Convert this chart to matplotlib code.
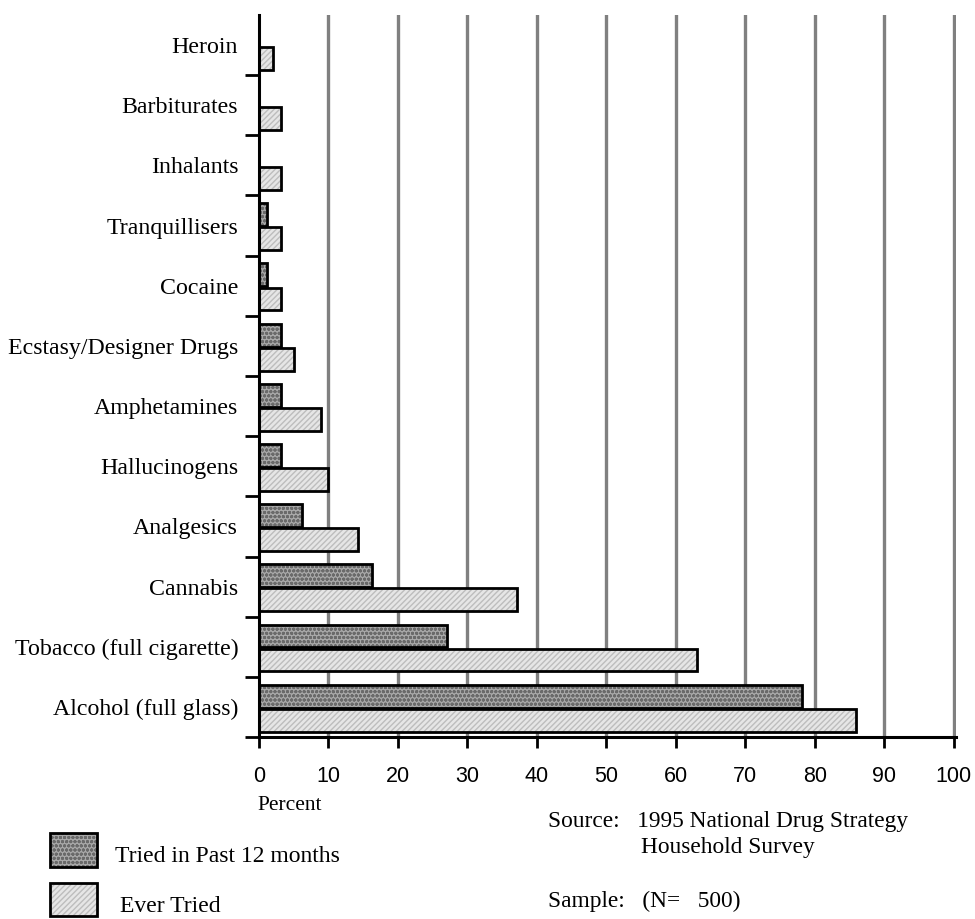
import numpy as np
import matplotlib
matplotlib.use("Agg")
import matplotlib.pyplot as plt
from matplotlib.patches import Rectangle

# Data (percent of respondents)
drugs = ["Heroin", "Barbiturates", "Inhalants", "Tranquillisers", "Cocaine",
         "Ecstasy/Designer Drugs", "Amphetamines", "Hallucinogens", "Analgesics",
         "Cannabis", "Tobacco (full cigarette)", "Alcohol (full glass)"]
past_12_months = [0, 0, 0, 1.2, 1.2, 3.1, 3.1, 3.1, 6.2, 16.2, 27.0, 78.2]
ever_tried = [2.0, 3.2, 3.2, 3.2, 3.2, 5.0, 8.9, 10.0, 14.3, 37.2, 63.0, 85.9]
xticks = list(range(0, 101, 10))

serif = ["Liberation Serif", "DejaVu Serif"]
sans = ["Liberation Sans", "DejaVu Sans"]

fig = plt.figure(figsize=(9.75, 9.19), dpi=100)
ax = fig.add_axes([0.2656, 0.198, 0.7149, 0.7857])

y = np.arange(len(drugs))
h = 0.38

# gridlines
for v in xticks[1:]:
    ax.axvline(v, color="#808080", lw=2.4, zorder=0)

# hatch layers then black outlines
ax.barh(y - 0.18, past_12_months, height=h, color="#a8a8a8", hatch="oooo",
        edgecolor="#6a6a6a", lw=0, zorder=2)
ax.barh(y + 0.22, ever_tried, height=h, color="#e6e6e6", hatch="//////",
        edgecolor="#bdbdbd", lw=0, zorder=2)
ax.barh(y - 0.18, past_12_months, height=h, fill=False, edgecolor="black",
        lw=2, zorder=3)
ax.barh(y + 0.22, ever_tried, height=h, fill=False, edgecolor="black",
        lw=2, zorder=3)

ax.set_xlim(0, 100.3)
ax.set_ylim(len(drugs) - 0.5, -0.5)

for s in ["top", "right"]:
    ax.spines[s].set_visible(False)
for s in ["left", "bottom"]:
    ax.spines[s].set_linewidth(2.2)
    ax.spines[s].set_zorder(4)

ax.set_xticks(xticks)
ax.set_xticklabels([str(v) for v in xticks], family=sans, fontsize=15.5)
ax.tick_params(axis="x", length=8, width=2, pad=13)

# category dividers as major ticks, labels as minor ticks
ax.set_yticks(np.arange(0.5, len(drugs), 1.0))
ax.set_yticklabels([])
ax.tick_params(axis="y", which="major", length=10, width=2)
ax.set_yticks(y, minor=True)
ax.set_yticklabels(drugs, minor=True, family=serif, fontsize=17.2)
ax.tick_params(axis="y", which="minor", length=0, pad=15)

fig.text(290 / 975, 1 - 806 / 919, "Percent", family=serif, fontsize=15.5,
         ha="center", va="center")

# legend
fig.patches.append(Rectangle((50 / 975, 1 - 867 / 919), 47 / 975, 34 / 919,
                             transform=fig.transFigure, facecolor="#a8a8a8",
                             hatch="oooo", edgecolor="#6a6a6a", lw=0))
fig.patches.append(Rectangle((50 / 975, 1 - 867 / 919), 47 / 975, 34 / 919,
                             transform=fig.transFigure, fill=False,
                             edgecolor="black", lw=2))
fig.patches.append(Rectangle((50 / 975, 1 - 916 / 919), 47 / 975, 33 / 919,
                             transform=fig.transFigure, facecolor="#e6e6e6",
                             hatch="//////", edgecolor="#bdbdbd", lw=0))
fig.patches.append(Rectangle((50 / 975, 1 - 916 / 919), 47 / 975, 33 / 919,
                             transform=fig.transFigure, fill=False,
                             edgecolor="black", lw=2))
fig.text(115 / 975, 1 - 857 / 919, "Tried in Past 12 months", family=serif,
         fontsize=17, va="center")
fig.text(120 / 975, 1 - 906 / 919, "Ever Tried", family=serif,
         fontsize=17, va="center")

fig.text(548 / 975, 1 - 821 / 919, "Source:   1995 National Drug Strategy",
         family=serif, fontsize=16.8, va="center")
fig.text(641 / 975, 1 - 848 / 919, "Household Survey",
         family=serif, fontsize=16.8, va="center")
fig.text(548 / 975, 1 - 901 / 919, "Sample:   (N=   500)",
         family=serif, fontsize=16.8, va="center")

fig.savefig("out.png", dpi=100)
